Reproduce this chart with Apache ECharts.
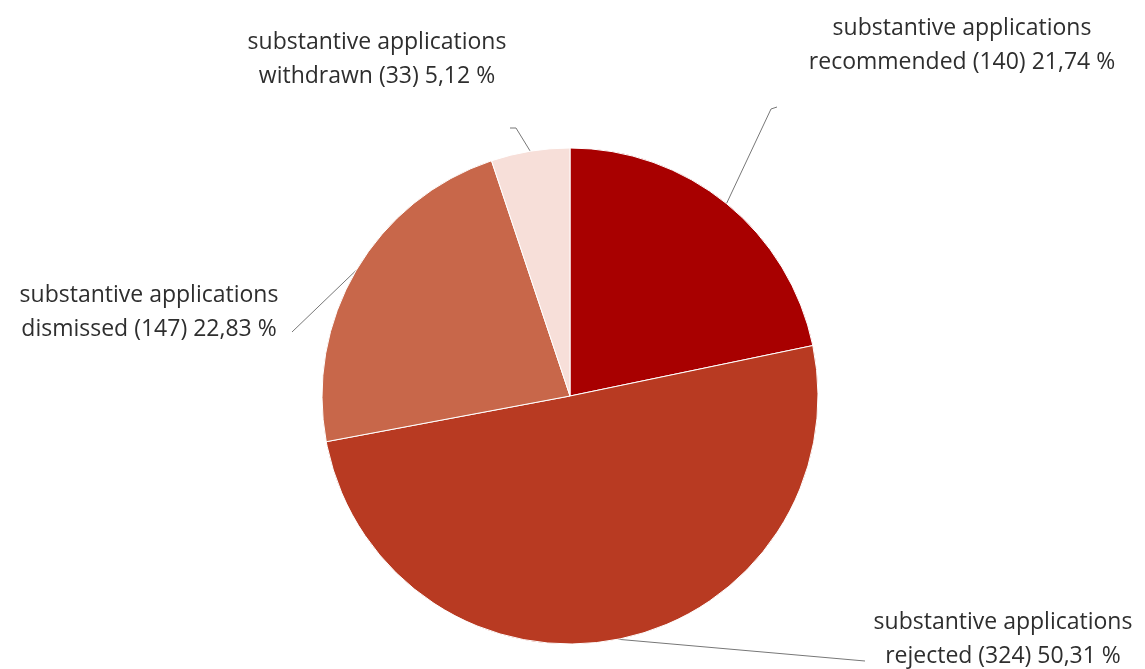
<!DOCTYPE html>
<html>
<head>
<meta charset="utf-8">
<script src="https://cdn.jsdelivr.net/npm/echarts@6/dist/echarts.min.js"></script>
<style>html,body{margin:0;padding:0;background:#fff}#c{width:1145px;height:669px}</style>
</head>
<body>
<div id="c"></div>
<script>
const categories = ['recommended', 'rejected', 'dismissed', 'withdrawn'];
const values = [140, 324, 147, 33];
const colors = ['#A80000', '#B83A22', '#C8674A', '#F7DFD9'];

const total = values.reduce((a, b) => a + b, 0);
const chart = echarts.init(document.getElementById('c'), null, {renderer: 'canvas'});

// label centres and line bends (layout only), per slice
const labelPos = [
  {x: 962, y: 45, bend: [771, 109], end: [777, 107]},
  {x: 1003, y: 639, bend: [865, 661], end: [865, 661]},
  {x: 149, y: 312, bend: [292, 332], end: [292, 332]},
  {x: 377, y: 59, bend: [516, 128], end: [510, 128]}
];

chart.setOption({
  animation: false,
  series: [{
    type: 'pie',
    center: [570, 396],
    radius: 248,
    startAngle: 90,
    clockwise: true,
    data: categories.map((c, i) => ({name: c, value: values[i], itemStyle: {color: colors[i]}})),
    itemStyle: {borderColor: '#fff', borderWidth: 1},
    label: {
      show: true,
      position: 'outside',
      formatter: p => 'substantive applications\n' + p.name + ' (' + p.value + ') ' +
        (p.value / total * 100).toFixed(2).replace('.', ',') + ' %',
      fontFamily: 'Open Sans',
      fontSize: 23,
      lineHeight: 34,
      color: '#2e2e2e',
      align: 'center'
    },
    labelLine: {show: true, lineStyle: {color: '#777', width: 1}},
    labelLayout: function (params) {
      const L = labelPos[params.dataIndex];
      const start = params.labelLinePoints ? params.labelLinePoints[0] : L.bend;
      return {
        x: L.x,
        y: L.y,
        align: 'center',
        verticalAlign: 'middle',
        labelLinePoints: [start, L.bend, L.end]
      };
    }
  }]
});
</script>
</body>
</html>
